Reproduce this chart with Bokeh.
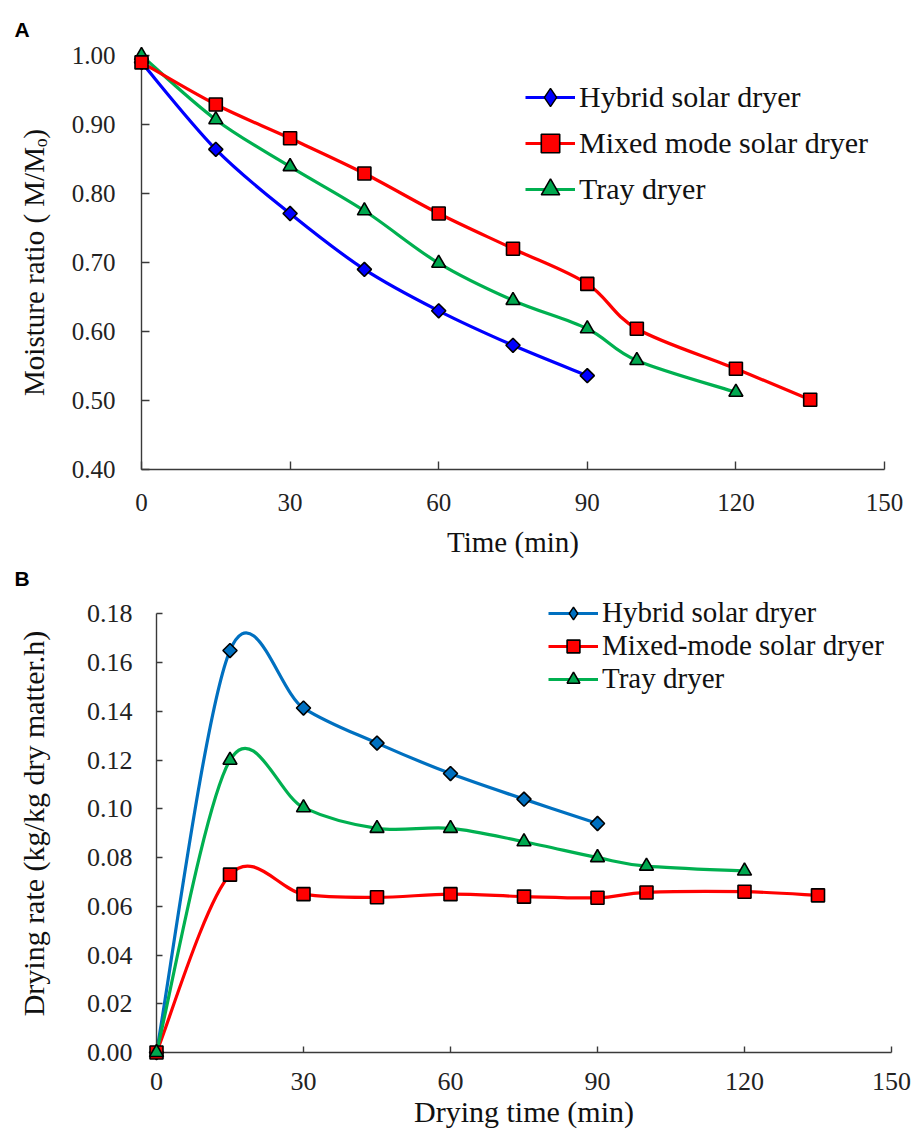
from bokeh.plotting import figure
from bokeh.models import (Legend, LegendItem, FixedTicker,
                          NumeralTickFormatter, ColumnDataSource)
from bokeh.embed import file_html
from bokeh.resources import INLINE

# ---------------- Panel A: moisture ratio ----------------
time_a_hybrid = [0, 15, 30, 45, 60, 75, 90]
mr_hybrid = [0.99, 0.864, 0.771, 0.690, 0.630, 0.580, 0.536]
time_a_mixed = [0, 15, 30, 45, 60, 75, 90, 100, 120, 135]
mr_mixed = [0.99, 0.929, 0.880, 0.829, 0.771, 0.720, 0.669, 0.604, 0.546, 0.501]
time_a_tray = [0, 15, 30, 45, 60, 75, 90, 100, 120]
mr_tray = [1.00, 0.907, 0.839, 0.775, 0.699, 0.645, 0.604, 0.558, 0.512]
xticks_a = [0, 30, 60, 90, 120, 150]
yticks_a = [0.40, 0.50, 0.60, 0.70, 0.80, 0.90, 1.00]

# ---------------- Panel B: drying rate ----------------
time_b_hybrid = [0, 15, 30, 45, 60, 75, 90]
dr_hybrid = [0.0, 0.165, 0.1414, 0.127, 0.1145, 0.104, 0.094]
time_b_mixed = [0, 15, 30, 45, 60, 75, 90, 100, 120, 135]
dr_mixed = [0.0, 0.073, 0.065, 0.0637, 0.065, 0.064, 0.0635, 0.0657, 0.066, 0.0645]
time_b_tray = [0, 15, 30, 45, 60, 75, 90, 100, 120]
dr_tray = [0.0, 0.120, 0.1005, 0.092, 0.092, 0.0865, 0.080, 0.0765, 0.0745]
xticks_b = [0, 30, 60, 90, 120, 150]
yticks_b = [0.00, 0.02, 0.04, 0.06, 0.08, 0.10, 0.12, 0.14, 0.16, 0.18]

SERIF = "Liberation Serif"


def smooth_source(xs, ys):
    """Cubic Bezier segments (Catmull-Rom style smoothing, like a spreadsheet
    'smoothed line') through the data points."""
    n = len(xs)
    d = dict(x0=[], y0=[], x1=[], y1=[], cx0=[], cy0=[], cx1=[], cy1=[])
    for i in range(n - 1):
        im1 = max(i - 1, 0)
        ip2 = min(i + 2, n - 1)
        d["x0"].append(xs[i]); d["y0"].append(ys[i])
        d["x1"].append(xs[i + 1]); d["y1"].append(ys[i + 1])
        d["cx0"].append(xs[i] + (xs[i + 1] - xs[im1]) / 6.0)
        d["cy0"].append(ys[i] + (ys[i + 1] - ys[im1]) / 6.0)
        d["cx1"].append(xs[i + 1] - (xs[ip2] - xs[i]) / 6.0)
        d["cy1"].append(ys[i + 1] - (ys[ip2] - ys[i]) / 6.0)
    return ColumnDataSource(d)


def add_series(p, xs, ys, color, marker, fill, size, angle=0.0,
               legend_marker=None, legend_size=None):
    bez = p.bezier(x0="x0", y0="y0", x1="x1", y1="y1", cx0="cx0", cy0="cy0",
                   cx1="cx1", cy1="cy1", source=smooth_source(xs, ys),
                   line_color=color, line_width=3.2)
    if legend_marker is None:
        sc = p.scatter(xs, ys, marker=marker, size=size, angle=angle,
                       fill_color=fill, line_color="black", line_width=1.6,
                       level="overlay")
        return [bez, sc]
    # legend proxy: the series' first point as an upright diamond, drawn
    # beneath the other markers (it is covered there) so the legend shows it
    lg = p.scatter(xs[:1], ys[:1], marker=legend_marker, size=legend_size,
                   fill_color=fill, line_color="black", line_width=1.4)
    p.scatter(xs, ys, marker=marker, size=size, angle=angle,
              fill_color=fill, line_color="black", line_width=1.6,
              level="overlay")
    return [bez, lg]


def style(p, tick_px, title_px):
    p.outline_line_color = None
    p.xgrid.visible = False
    p.ygrid.visible = False
    p.background_fill_color = "white"
    p.border_fill_color = "white"
    for ax in (p.xaxis[0], p.yaxis[0]):
        ax.axis_line_color = "#3a3a3a"
        ax.axis_line_width = 1.4
        ax.major_tick_in = 8
        ax.major_tick_out = 0
        ax.major_tick_line_color = "#3a3a3a"
        ax.major_tick_line_width = 1.4
        ax.minor_tick_in = 0
        ax.minor_tick_out = 0
        ax.major_label_text_font = SERIF
        ax.major_label_text_font_size = tick_px
        ax.major_label_text_color = "#222222"
        ax.axis_label_text_font = SERIF
        ax.axis_label_text_font_style = "normal"
        ax.axis_label_text_font_size = title_px
        ax.axis_label_text_color = "#111111"
    p.yaxis[0].formatter = NumeralTickFormatter(format="0.00")


def make_legend(items, loc, row_h, font_size):
    return Legend(items=items, location=loc, border_line_color=None,
                  background_fill_alpha=0, padding=0, margin=0, spacing=0,
                  glyph_width=50, glyph_height=row_h, label_height=row_h,
                  label_standoff=4, label_text_font=SERIF,
                  label_text_font_size=font_size, label_text_color="#111111")


def panel_title(p, letter, offset, standoff):
    p.title.text = letter
    p.title.align = "left"
    p.title.offset = offset
    p.title.standoff = standoff
    p.title.text_font = "Liberation Sans"
    p.title.text_font_style = "bold"
    p.title.text_font_size = "21px"
    p.title.text_color = "black"


# ---------------- Figure A ----------------
pa = figure(width=912, height=560, x_range=(0, 150), y_range=(0.40, 1.00),
            output_backend="svg", toolbar_location=None,
            min_border_left=141, min_border_right=28,
            min_border_top=55, min_border_bottom=91)
style(pa, "25px", "29px")
panel_title(pa, "A", -127, 30)
pa.xaxis[0].ticker = FixedTicker(ticks=xticks_a)
pa.yaxis[0].ticker = FixedTicker(ticks=yticks_a)
pa.xaxis[0].axis_label = "Time (min)"
pa.yaxis[0].axis_label = "Moisture ratio ( M/M\u2092)"
pa.xaxis[0].major_label_standoff = 24
pa.yaxis[0].major_label_standoff = 26
pa.xaxis[0].axis_label_standoff = 12
pa.yaxis[0].axis_label_standoff = 19

ra_h = add_series(pa, time_a_hybrid, mr_hybrid, "#0000FF", "square", "#0000FF", 10, 0.785398,
                  legend_marker="diamond", legend_size=15)
ra_t = add_series(pa, time_a_tray, mr_tray, "#00B050", "triangle", "#00A84F", 14)
ra_m = add_series(pa, time_a_mixed, mr_mixed, "#FF0000", "square", "#FF0000", 13)

leg_a = make_legend([LegendItem(label="Hybrid solar dryer", renderers=ra_h),
                     LegendItem(label="Mixed mode solar dryer", renderers=ra_m),
                     LegendItem(label="Tray dryer", renderers=ra_t)],
                    (384, 257), 46, "30px")
pa.add_layout(leg_a)

# ---------------- Figure B ----------------
# y range reaches a bit above the last tick so the legend fits in the frame;
# the axis line itself stops at 0.18 (bounds)
pb = figure(width=912, height=575, x_range=(0, 150), y_range=(0.0, 0.188),
            output_backend="svg", toolbar_location=None,
            min_border_left=156, min_border_right=21,
            min_border_top=34, min_border_bottom=83)
style(pb, "26px", "30px")
panel_title(pb, "B", -142, 9)
pb.xaxis[0].ticker = FixedTicker(ticks=xticks_b)
pb.yaxis[0].ticker = FixedTicker(ticks=yticks_b)
pb.yaxis[0].bounds = (0.0, 0.18)
pb.xaxis[0].axis_label = "Drying time (min)"
pb.yaxis[0].axis_label = "Drying rate (kg/kg dry matter.h)"
pb.xaxis[0].major_tick_in = 6
pb.yaxis[0].major_tick_in = 6
pb.xaxis[0].major_label_standoff = 20
pb.yaxis[0].major_label_standoff = 24
pb.xaxis[0].axis_label_standoff = 2
pb.yaxis[0].axis_label_standoff = 34

rb_h = add_series(pb, time_b_hybrid, dr_hybrid, "#0070C0", "square", "#0070C0", 10, 0.785398,
                  legend_marker="diamond", legend_size=15)
rb_m = add_series(pb, time_b_mixed, dr_mixed, "#FF0000", "square", "#FF0000", 13)
rb_t = add_series(pb, time_b_tray, dr_tray, "#00B050", "triangle", "#00A84F", 14)

leg_b = make_legend([LegendItem(label="Hybrid solar dryer", renderers=rb_h),
                     LegendItem(label="Mixed-mode solar dryer", renderers=rb_m),
                     LegendItem(label="Tray dryer", renderers=rb_t)],
                    (392, 357), 32, "29px")
pb.add_layout(leg_b)

open("out.html", "w").write(file_html([pa, pb], INLINE))
